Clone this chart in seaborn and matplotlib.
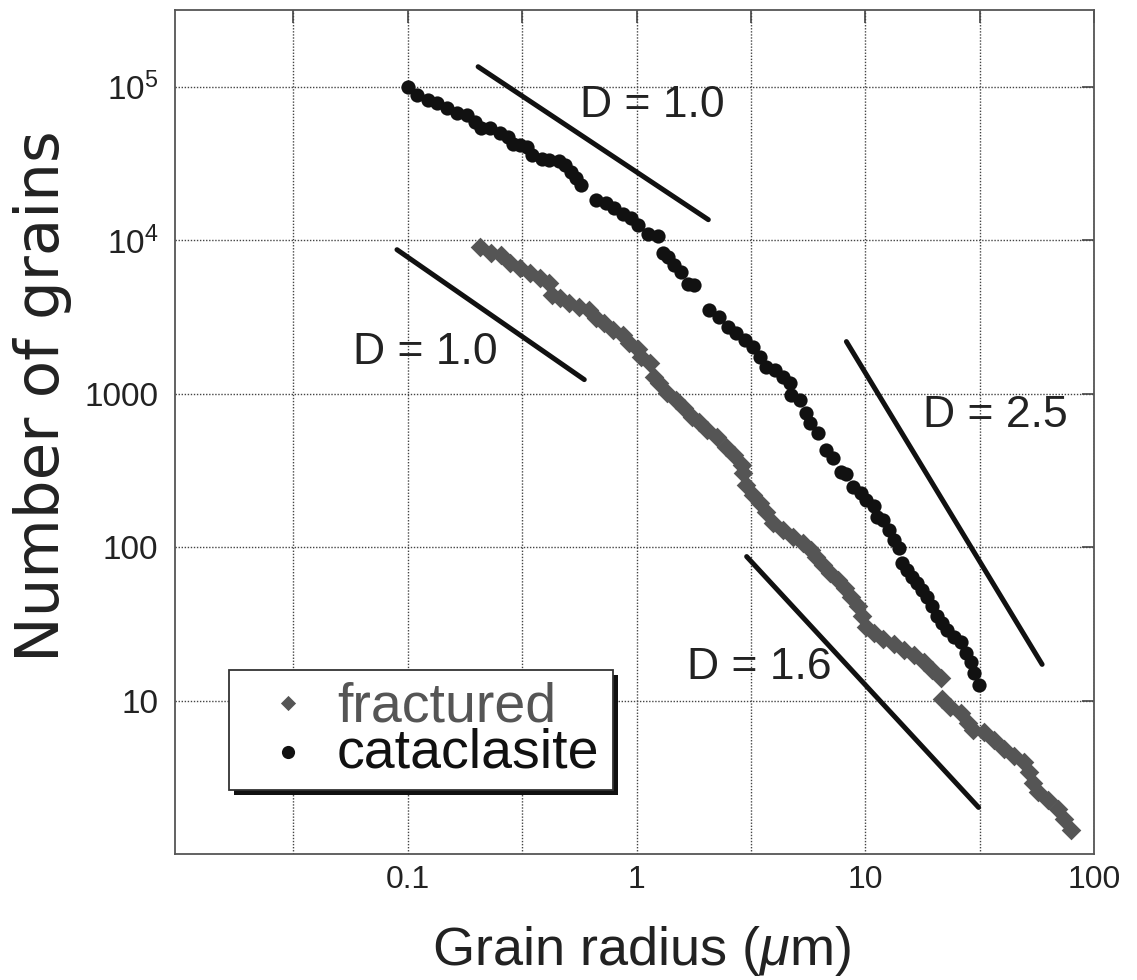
import numpy as np
import pandas as pd
import matplotlib
matplotlib.use('Agg')
import matplotlib.pyplot as plt
import seaborn as sns
from matplotlib.patches import Rectangle
from matplotlib.ticker import NullFormatter, NullLocator

# Cumulative grain counts
cataclasite_radius = [0.100, 0.110, 0.122, 0.134, 0.148, 0.164, 0.181, 0.197, 0.209, 0.229,
                      0.252, 0.273, 0.287, 0.310, 0.332, 0.349, 0.386, 0.414, 0.457, 0.485,
                      0.519, 0.546, 0.574, 0.666, 0.736, 0.796, 0.870, 0.942, 1.02, 1.12,
                      1.24, 1.30, 1.37, 1.46, 1.57, 1.68, 1.79, 2.08, 2.30, 2.50,
                      2.71, 2.97, 3.22, 3.45, 3.67, 4.02, 4.36, 4.68, 4.73, 5.18,
                      5.51, 5.74, 6.22, 6.75, 7.25, 7.86, 8.27, 8.88, 9.54, 10.1,
                      10.9, 11.2, 12.0, 12.7, 13.3, 14.0, 14.5, 15.2, 16.0, 16.8,
                      17.7, 18.6, 19.6, 20.6, 21.7, 22.8, 24.5, 26.3, 27.7, 29.1,
                      30.0, 31.3]
cataclasite_count = [100000, 88700, 82300, 78700, 73000, 67700, 65700, 59200, 54100, 53500,
                     50100, 47200, 42500, 42000, 40600, 36100, 34000, 33400, 32800, 31000,
                     27900, 25500, 23000, 18400, 17500, 16300, 14700, 14000, 12600, 11000,
                     10700, 8290, 7810, 6920, 6240, 5200, 5080, 3530, 3170, 2730,
                     2500, 2250, 2020, 1740, 1500, 1430, 1290, 1180, 985, 914,
                     752, 647, 557, 432, 383, 310, 300, 248, 226, 204,
                     184, 158, 151, 130, 112, 99, 79, 71, 64, 58.7,
                     52.9, 47.6, 41.0, 35.3, 32.2, 29.0, 26.1, 23.9, 20.5, 17.7,
                     15.2, 12.7]

fractured_radius = [0.207, 0.231, 0.255, 0.281, 0.310, 0.342, 0.378, 0.414, 0.426, 0.461,
                    0.509, 0.562, 0.621, 0.666, 0.721, 0.788, 0.870, 0.924, 1.01,
                    1.05, 1.15, 1.19, 1.25, 1.36, 1.49, 1.61, 1.75, 1.88, 2.04,
                    2.25, 2.47, 2.68, 2.88,
                    2.91, 3.00, 3.22, 3.45, 3.67, 3.94, 4.36, 4.83, 5.34, 5.80,
                    6.10, 6.55, 7.03, 7.62, 8.19, 8.70, 9.25, 9.63, 10.1, 10.9,
                    12.0, 13.3, 14.8, 16.3, 18.1, 19.6, 21.5,
                    21.7, 23.5, 26.1, 28.0, 29.7, 32.9, 36.4, 40.3, 44.7, 49.4,
                    52.0, 54.1, 57.0, 63.1, 69.8, 74.2, 79.7]
fractured_count = [9070, 8290, 8050, 7130, 6620, 6140, 5700, 5290, 4410, 4220,
                   3920, 3690, 3530, 3130, 2900, 2610, 2420, 2150, 1940,
                   1740, 1590, 1290, 1180, 1016, 914, 811, 708, 657, 583,
                   525, 452, 401, 345,
                   306, 255, 220, 195, 168, 144, 130, 117, 107, 96.3,
                   86.7, 76.9, 68.2, 61.4, 54.5, 47.6, 41.0, 35.3, 30.3, 27.7,
                   25.0, 23.2, 21.5, 19.9, 17.7, 15.9, 14.1,
                   10.2, 9.14, 8.35, 7.19, 6.47, 6.19, 5.57, 4.80, 4.32, 3.95,
                   3.40, 2.92, 2.52, 2.26, 1.95, 1.68, 1.44]

# Power-law guide lines (start and end points) and their labels
guide_labels = ['D = 1.0', 'D = 1.0', 'D = 2.5', 'D = 1.6']
guide_r0 = [0.203, 0.0897, 8.27, 3.03]
guide_n0 = [1.35e5, 8670, 2183, 86.7]
guide_r1 = [2.06, 0.591, 59.3, 31.3]
guide_n1 = [1.36e4, 1234, 17.2, 2.01]
label_r = [0.566, 0.0576, 17.9, 1.663]
label_n = [63800, 1568, 610, 13.9]

# Axis ticks
x_ticks = [0.1, 1, 10, 100]
x_tick_labels = ['0.1', '1', '10', '100']
x_minor = [10 ** -1.5, 10 ** -0.5, 10 ** 0.5, 10 ** 1.5]
y_ticks = [10, 100, 1000, 1e4, 1e5]
y_tick_labels = ['10', '100', '1000', r'$\mathregular{10^4}$', r'$\mathregular{10^5}$']

sns.set_theme(style='white')
plt.rcParams['font.family'] = ['Liberation Sans', 'DejaVu Sans']
plt.rcParams['mathtext.fontset'] = 'custom'
plt.rcParams['mathtext.rm'] = 'Liberation Sans'
plt.rcParams['mathtext.it'] = 'Liberation Sans:italic'

text_color = '#222222'
frac_color = '#555555'
cat_color = '#111111'

fig = plt.figure(figsize=(11.37, 9.8), dpi=100)
ax = fig.add_axes([0.1539, 0.1286, 0.8083, 0.8612])
ax.set_xscale('log')
ax.set_yscale('log')

# Data
sns.scatterplot(x=fractured_radius, y=fractured_count, marker='D', s=100,
                color=frac_color, linewidth=0, ax=ax, zorder=3)
sns.scatterplot(x=cataclasite_radius, y=cataclasite_count, marker='o', s=105,
                color=cat_color, linewidth=0, ax=ax, zorder=4)

# Guide lines
for i in range(len(guide_labels)):
    ax.plot([guide_r0[i], guide_r1[i]], [guide_n0[i], guide_n1[i]], color=cat_color,
            lw=3.6, solid_capstyle='round', zorder=4)
    ax.text(label_r[i], label_n[i], guide_labels[i], fontsize=32, color=text_color,
            ha='left', va='baseline', zorder=5)

ax.set_xlim(0.0096, 100)
ax.set_ylim(1, 10 ** 5.5)
ax.set_xticks(x_ticks, labels=x_tick_labels)
ax.set_xticks(x_minor, minor=True)
ax.xaxis.set_minor_formatter(NullFormatter())
ax.set_yticks(y_ticks, labels=y_tick_labels)
ax.yaxis.set_minor_locator(NullLocator())

grid_kw = dict(color='#444444', lw=1.0, linestyle=(0, (1, 1.2)))
ax.grid(True, which='both', axis='x', **grid_kw)
ax.grid(True, which='major', axis='y', **grid_kw)
ax.set_axisbelow(True)

ax.tick_params(which='both', direction='in', length=9, width=1.2, color='#444444',
               top=True, right=True, labelcolor=text_color)
ax.tick_params(axis='x', labelsize=23, pad=8)
ax.tick_params(axis='y', labelsize=24, pad=12)
for sp in ax.spines.values():
    sp.set_color('#555555')
    sp.set_linewidth(1.3)

ax.set_xlabel(r'Grain radius ($\mu$m)', fontsize=39, color=text_color)
ax.xaxis.set_label_coords(0.508, -0.083)
# the original y label is drawn wider than the x label, DejaVu gives that width
ax.set_ylabel('Number of grains', fontsize=44, color=text_color, family='DejaVu Sans')
ax.yaxis.set_label_coords(-0.112, 0.543)

# Legend box with drop shadow
lx, ly, lw_, lh = 0.0588, 0.0758, 0.4178, 0.1422
ax.add_patch(Rectangle((lx + 0.0058, ly - 0.0064), lw_, lh, transform=ax.transAxes,
                       facecolor='#111111', edgecolor='none', zorder=6))
ax.add_patch(Rectangle((lx, ly), lw_, lh, transform=ax.transAxes,
                       facecolor='white', edgecolor='#333333', lw=1.3, zorder=6.5))
ax.scatter([0.123], [0.179], transform=ax.transAxes, marker='D', s=60,
           color=frac_color, linewidth=0, zorder=7)
ax.scatter([0.123], [0.121], transform=ax.transAxes, marker='o', s=90,
           color=cat_color, linewidth=0, zorder=7)
ax.text(0.1763, 0.1564, 'fractured', transform=ax.transAxes, fontsize=40,
        color=frac_color, ha='left', va='baseline', zorder=7)
ax.text(0.1763, 0.1019, 'cataclasite', transform=ax.transAxes, fontsize=40,
        color=cat_color, ha='left', va='baseline', zorder=7)

plt.savefig('out.png', dpi=100)
plt.close()
